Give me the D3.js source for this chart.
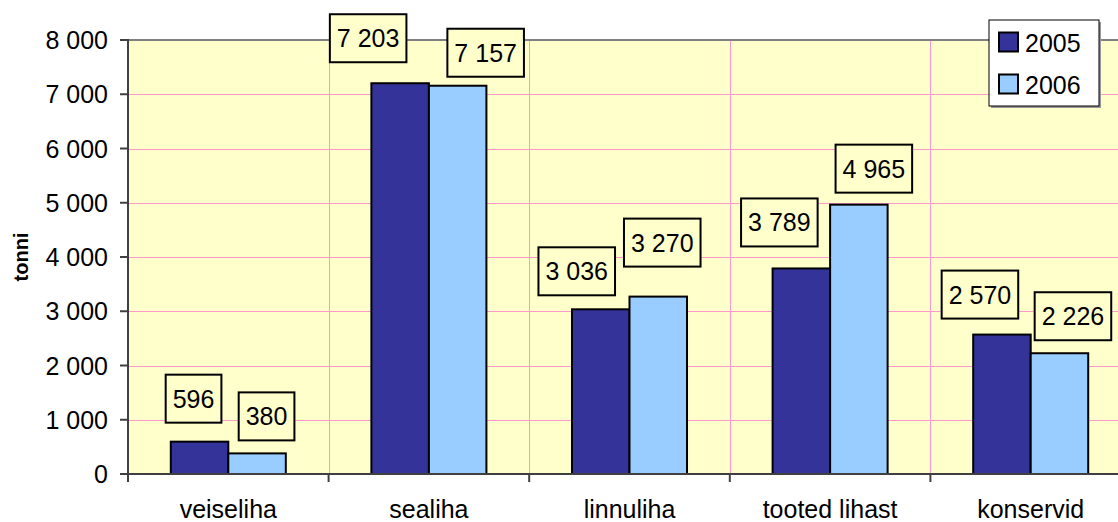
<!DOCTYPE html>
<html>
<head>
<meta charset="utf-8">
<script src="https://cdn.jsdelivr.net/npm/d3@7"></script>
<style>
  body { margin: 0; background: #fff; }
  text { font-family: "Liberation Sans", Arial, sans-serif; }
</style>
</head>
<body>
<svg id="chart" width="1118" height="522"></svg>
<script>
// data
var categories = ["veiseliha", "sealiha", "linnuliha", "tooted lihast", "konservid"];
var seriesNames = ["2005", "2006"];
var values2005 = [596, 7203, 3036, 3789, 2570];
var values2006 = [380, 7157, 3270, 4965, 2226];
var yTicks = [0, 1000, 2000, 3000, 4000, 5000, 6000, 7000, 8000];
var colors = ["#333399", "#99CCFF"];

// label box nudges [dx, gap above bar], these were dragged by hand in the original
var labelShift2005 = [[-6, 19], [-32, 21], [-24, 14], [-22, 22], [-22, 16]];
var labelShift2006 = [[9.5, 13], [28, 9], [4, 30], [15, 12], [13.5, 13]];

var svg = d3.select("#chart");
var plotLeft = 128, plotRight = 1131, plotTop = 40, plotBottom = 474;

var fmt = d3.formatLocale({decimal: ",", thousands: " ", grouping: [3], currency: ["", ""]}).format(",d");

var x = d3.scaleBand().domain(categories).range([plotLeft, plotRight]).paddingInner(0).paddingOuter(0);
var x1 = d3.scaleBand().domain(seriesNames).range([0, x.bandwidth()]).paddingInner(0).paddingOuter(0.744);
var y = d3.scaleLinear().domain([0, 8000]).range([plotBottom, plotTop]);

// plot background
svg.append("rect")
    .attr("x", plotLeft).attr("y", plotTop)
    .attr("width", plotRight - plotLeft).attr("height", plotBottom - plotTop)
    .attr("fill", "#FFFFCC");

// grid
svg.append("g").selectAll("line")
    .data(yTicks.slice(1, -1))
    .enter().append("line")
    .attr("x1", plotLeft).attr("x2", plotRight)
    .attr("y1", function (d) { return Math.round(y(d)) + 0.5; })
    .attr("y2", function (d) { return Math.round(y(d)) + 0.5; })
    .attr("stroke", "#FF99CC").attr("stroke-width", 1);
svg.append("g").selectAll("line")
    .data(categories.slice(1))
    .enter().append("line")
    .attr("x1", function (d) { return Math.round(x(d)) + 0.5; })
    .attr("x2", function (d) { return Math.round(x(d)) + 0.5; })
    .attr("y1", plotTop).attr("y2", plotBottom)
    .attr("stroke", "#FF99CC").attr("stroke-width", 1);

// plot border top
svg.append("line")
    .attr("x1", plotLeft).attr("x2", plotRight).attr("y1", plotTop).attr("y2", plotTop)
    .attr("stroke", "#808080").attr("stroke-width", 2);

// bars
var series = [values2005, values2006];
series.forEach(function (vals, s) {
    svg.append("g").selectAll("rect")
        .data(vals)
        .enter().append("rect")
        .attr("x", function (d, i) { return x(categories[i]) + x1(seriesNames[s]); })
        .attr("y", function (d) { return y(d); })
        .attr("width", x1.bandwidth())
        .attr("height", function (d) { return plotBottom - y(d); })
        .attr("fill", colors[s])
        .attr("stroke", "#000").attr("stroke-width", 2);
});

// axes lines
svg.append("line")
    .attr("x1", plotLeft).attr("x2", plotLeft).attr("y1", plotTop - 1).attr("y2", plotBottom + 1)
    .attr("stroke", "#404040").attr("stroke-width", 2);
svg.append("line")
    .attr("x1", plotLeft - 8).attr("x2", plotRight).attr("y1", plotBottom).attr("y2", plotBottom)
    .attr("stroke", "#404040").attr("stroke-width", 2);

// y ticks and labels
var yt = svg.append("g").selectAll("g")
    .data(yTicks)
    .enter().append("g");
yt.append("line")
    .attr("x1", plotLeft - 8).attr("x2", plotLeft)
    .attr("y1", function (d) { return y(d); })
    .attr("y2", function (d) { return y(d); })
    .attr("stroke", "#404040").attr("stroke-width", 2);
yt.append("text")
    .attr("x", 108)
    .attr("y", function (d) { return y(d); })
    .attr("dy", "0.36em")
    .attr("text-anchor", "end")
    .attr("font-size", 25)
    .attr("fill", "#000")
    .text(function (d) { return fmt(d); });

// x ticks at category boundaries
svg.append("g").selectAll("line")
    .data(categories.concat(["end"]))
    .enter().append("line")
    .attr("x1", function (d, i) { return plotLeft + i * x.step(); })
    .attr("x2", function (d, i) { return plotLeft + i * x.step(); })
    .attr("y1", plotBottom).attr("y2", plotBottom + 8)
    .attr("stroke", "#404040").attr("stroke-width", 2);

// category labels
svg.append("g").selectAll("text")
    .data(categories)
    .enter().append("text")
    .attr("x", function (d) { return x(d) + x.bandwidth() / 2; })
    .attr("y", 518)
    .attr("text-anchor", "middle")
    .attr("font-size", 25)
    .text(function (d) { return d; });

// y axis title
svg.append("text")
    .attr("transform", "translate(28," + ((plotTop + plotBottom) / 2) + ") rotate(-90)")
    .attr("text-anchor", "middle")
    .attr("font-size", 20)
    .attr("font-weight", "bold")
    .text("tonni");

// value label boxes
var shifts = [labelShift2005, labelShift2006];
series.forEach(function (vals, s) {
    var g = svg.append("g").selectAll("g")
        .data(vals)
        .enter().append("g")
        .attr("transform", function (d, i) {
            var cx = x(categories[i]) + x1(seriesNames[s]) + x1.bandwidth() / 2 + shifts[s][i][0];
            var by = y(d) - shifts[s][i][1];
            return "translate(" + cx + "," + by + ")";
        });
    var t = g.append("text")
        .attr("x", 0).attr("y", -24)
        .attr("dy", "0.36em")
        .attr("text-anchor", "middle")
        .attr("font-size", 25)
        .text(function (d) { return fmt(d); });
    g.insert("rect", "text")
        .each(function (d, i) {
            var w = t.nodes()[i].getComputedTextLength() + 14;
            d3.select(this)
                .attr("x", -w / 2).attr("y", -48)
                .attr("width", w).attr("height", 48);
        })
        .attr("fill", "#FFFFCC")
        .attr("stroke", "#000").attr("stroke-width", 2);
});

// legend
var lg = svg.append("g").attr("transform", "translate(989,20)");
lg.append("rect")
    .attr("x", 2).attr("y", 2).attr("width", 110).attr("height", 86)
    .attr("fill", "#999");
lg.append("rect")
    .attr("x", 0).attr("y", 0).attr("width", 110).attr("height", 86)
    .attr("fill", "#fff").attr("stroke", "#000").attr("stroke-width", 1);
seriesNames.forEach(function (name, s) {
    var cy = 22.5 + s * 42;
    lg.append("rect")
        .attr("x", 10).attr("y", cy - 10).attr("width", 19).attr("height", 19)
        .attr("fill", colors[s]).attr("stroke", "#000").attr("stroke-width", 2);
    lg.append("text")
        .attr("x", 36).attr("y", cy)
        .attr("dy", "0.36em")
        .attr("font-size", 25)
        .text(name);
});
</script>
</body>
</html>
